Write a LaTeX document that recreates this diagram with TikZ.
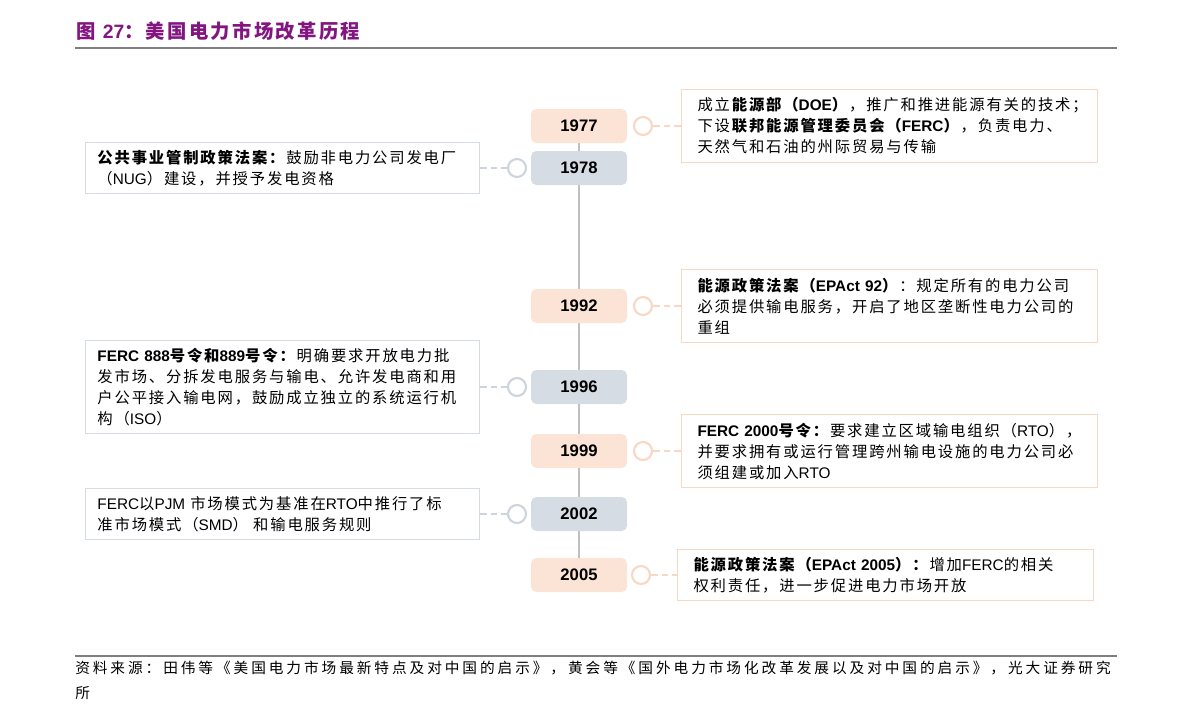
\documentclass[tikz,border=0pt]{standalone}
\usepackage{fontspec}
\setmainfont{Noto Sans CJK SC}[LetterSpace=12]
\newfontfamily\lat{Liberation Sans}
\newfontfamily\footfont{Noto Sans CJK SC}[LetterSpace=20]
\definecolor{peach}{HTML}{FBE4D5}
\definecolor{peachline}{HTML}{F8D8C4}
\definecolor{slate}{HTML}{D6DCE4}
\definecolor{slateline}{HTML}{CDD4DE}
\definecolor{spinegray}{HTML}{BFBFBF}
\definecolor{titlepurple}{HTML}{82157F}
\definecolor{rulegray}{HTML}{7F7F7F}

\begin{document}
\begin{tikzpicture}[x=0.75pt, y=-0.75pt,
    year/.style={rounded corners=4pt, minimum width=72pt, minimum height=25.5pt,
      inner sep=0pt, font=\lat\bfseries\fontsize{12.5}{15}\selectfont},
    event/.style={draw, line width=0.8pt, align=left, inner ysep=6pt,
      font=\fontsize{11.5}{15.75}\selectfont},
    knob/.style={circle, draw, fill=white, line width=1.6pt, minimum size=13.5pt, inner sep=0pt},
    link/.style={line width=2pt, dash pattern=on 5pt off 3pt}]
            \useasboundingbox (0,0) rectangle (1191,724);

            % Title
            \node[anchor=west, text=titlepurple, font=\bfseries\fontsize{14.5}{16}\selectfont] (title) at (72,31)
              {图 {\lat 27}：美国电力市场改革历程};
            \draw[rulegray, line width=1.6pt] (75,48) -- (1117,48);

            % Spine
            \coordinate (top) at (579,126);
            \coordinate (bottom) at (579,575);
            \draw[spinegray, line width=2.2pt] (top) -- (bottom);

            % Years
            \node[year, fill=peach] (y1977) at (579,126) {1977};
            \node[year, fill=slate] (y1978) at (579,168) {1978};
            \node[year, fill=peach] (y1992) at (579,306) {1992};
            \node[year, fill=slate] (y1996) at (579,387) {1996};
            \node[year, fill=peach] (y1999) at (579,451) {1999};
            \node[year, fill=slate] (y2002) at (579,514) {2002};
            \node[year, fill=peach] (y2005) at (579,575) {2005};

            % Knobs
            \node[knob, draw=peachline] (k1977) at (643,126) {};
            \node[knob, draw=slateline] (k1978) at (517,168) {};
            \node[knob, draw=peachline] (k1992) at (643,306) {};
            \node[knob, draw=slateline] (k1996) at (517,387) {};
            \node[knob, draw=peachline] (k1999) at (643,451) {};
            \node[knob, draw=slateline] (k2002) at (517,514) {};
            \node[knob, draw=peachline] (k2005) at (641,575) {};

            % Events on the right
            \node[event, draw=peachline, text width=288pt, inner xsep=12pt, anchor=west] (e1977) at (681,126)
              {成立\textbf{能源部（{\lat DOE}）}，推广和推进能源有关的技术；\\
               下设\textbf{联邦能源管理委员会（{\lat FERC}）}，负责电力、\\
               天然气和石油的州际贸易与传输};
            \node[event, draw=peachline, text width=288pt, inner xsep=12pt, anchor=west] (e1992) at (681,306)
              {\textbf{能源政策法案（{\lat EPAct 92}）}：规定所有的电力公司\\
               必须提供输电服务，开启了地区垄断性电力公司的\\
               重组};
            \node[event, draw=peachline, text width=288pt, inner xsep=12pt, anchor=west] (e1999) at (681,451)
              {\textbf{{\lat FERC 2000}号令：}要求建立区域输电组织（{\lat RTO}），\\
               并要求拥有或运行管理跨州输电设施的电力公司必\\
               须组建或加入{\lat RTO}};
            \node[event, draw=peachline, text width=288pt, inner xsep=12pt, anchor=west] (e2005) at (677,575)
              {\textbf{能源政策法案（{\lat EPAct 2005}）：}增加{\lat FERC}的相关\\
               权利责任，进一步促进电力市场开放};

            % Events on the left
            \node[event, draw=slate, text width=277.5pt, inner xsep=9pt, anchor=east] (e1978) at (480,168)
              {\textbf{公共事业管制政策法案：}鼓励非电力公司发电厂\\
               （{\lat NUG}）建设，并授予发电资格};
            \node[event, draw=slate, text width=277.5pt, inner xsep=9pt, anchor=east] (e1996) at (480,387)
              {\textbf{{\lat FERC 888}号令和{\lat 889}号令：}明确要求开放电力批\\
               发市场、分拆发电服务与输电、允许发电商和用\\
               户公平接入输电网，鼓励成立独立的系统运行机\\
               构（{\lat ISO}）};
            \node[event, draw=slate, text width=277.5pt, inner xsep=9pt, anchor=east] (e2002) at (480,514)
              {{\lat FERC}以{\lat PJM} 市场模式为基准在{\lat RTO}中推行了标\\
               准市场模式（{\lat SMD}） 和输电服务规则};

            % Links
            \draw[link, peachline] (k1977.east) -- (e1977.west);
            \draw[link, slateline] (e1978.east) -- (k1978.west);
            \draw[link, peachline] (k1992.east) -- (e1992.west);
            \draw[link, slateline] (e1996.east) -- (k1996.west);
            \draw[link, peachline] (k1999.east) -- (e1999.west);
            \draw[link, slateline] (e2002.east) -- (k2002.west);
            \draw[link, peachline] (k2005.east) -- (e2005.west);

            % Source
            \draw[rulegray, line width=2pt] (75,656) -- (1117,656);
            \node[anchor=north west, align=left, inner sep=0pt,
              font=\footfont\fontsize{11}{18.75}\selectfont] (source) at (75,661)
              {资料来源：田伟等《美国电力市场最新特点及对中国的启示》，黄会等《国外电力市场化改革发展以及对中国的启示》，光大证券研究\\
               所};
\end{tikzpicture}
\end{document}
